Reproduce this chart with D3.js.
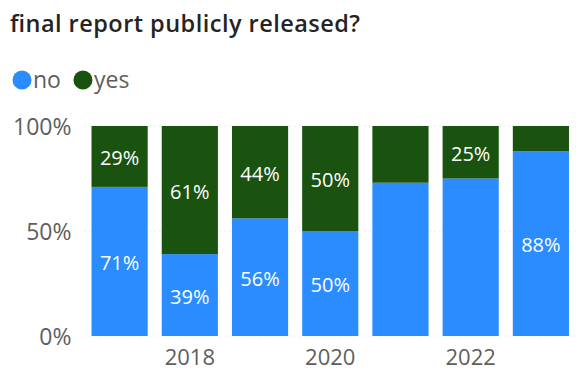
<!DOCTYPE html>
<html>
<head>
<meta charset="utf-8">
<script src="https://cdn.jsdelivr.net/npm/d3@7"></script>
<style>
  html, body { margin: 0; padding: 0; background: #fff; }
  svg { display: block; font-family: "Open Sans", "Noto Sans", sans-serif; }
</style>
</head>
<body>
<svg id="chart" width="576" height="375"></svg>
<script>
// Share of reports publicly released, by year
const years = [2017, 2018, 2019, 2020, 2021, 2022, 2023];
const noShare = [71, 39, 56, 50, 73, 75, 88];
const yesShare = [29, 61, 44, 50, 27, 25, 12];
// Which segment labels are shown (some are suppressed)
const noLabelShown = [true, true, true, true, false, false, true];
const yesLabelShown = [true, true, true, true, false, true, false];
const yTicks = [0, 50, 100];
const xTickLabels = [2018, 2020, 2022];

const seriesNames = ["no", "yes"];
const colors = { no: "#2B8CFF", yes: "#1A5210" };

const svg = d3.select("#chart");
const margin = { top: 126, right: 0, bottom: 39, left: 84.5 };
const W = 576, H = 375;

const rows = years.map((y, i) => ({ year: y, no: noShare[i], yes: yesShare[i],
  noLbl: noLabelShown[i], yesLbl: yesLabelShown[i] }));

const x = d3.scaleBand()
  .domain(years)
  .range([margin.left, W - margin.right])
  .paddingInner(0.2)
  .paddingOuter(0.1);

const y = d3.scaleLinear()
  .domain([0, 100])
  .range([H - margin.bottom, margin.top]);

// Title
svg.append("text")
  .attr("x", 10).attr("y", 32)
  .attr("font-size", 23.5).attr("font-weight", 600)
  .attr("fill", "#252423")
  .attr("textLength", 350).attr("lengthAdjust", "spacing")
  .text("final report publicly released?");

// Legend
const legend = svg.append("g");
let lx = 22;
seriesNames.forEach(name => {
  legend.append("circle").attr("cx", lx).attr("cy", 80).attr("r", 9.5).attr("fill", colors[name]);
  const t = legend.append("text").attr("x", lx + 11).attr("y", 88)
    .attr("font-size", 23).attr("fill", "#605E5C").text(name);
  lx += 11 + t.node().getComputedTextLength() + 22;
});

// Dotted gridlines
svg.append("g")
  .selectAll("line").data(yTicks).join("line")
  .attr("x1", margin.left).attr("x2", W)
  .attr("y1", d => y(d)).attr("y2", d => y(d))
  .attr("stroke", "#D8D8D8").attr("stroke-width", 1)
  .attr("stroke-dasharray", "1,4");

// Y axis
const yAxis = svg.append("g")
  .attr("transform", `translate(${margin.left - 13},0)`)
  .call(d3.axisLeft(y).tickValues(yTicks).tickFormat(d => d + "%").tickSize(0).tickPadding(0));
yAxis.select(".domain").remove();
yAxis.selectAll("text").attr("font-size", 23).attr("fill", "#605E5C")
  .attr("font-family", "Open Sans, sans-serif").attr("dy", "0.35em");

// X axis
const xAxis = svg.append("g")
  .attr("transform", `translate(0,${H - margin.bottom})`)
  .call(d3.axisBottom(x).tickValues(xTickLabels).tickSize(0).tickPadding(13));
xAxis.select(".domain").remove();
xAxis.selectAll("text").attr("font-size", 22).attr("fill", "#605E5C")
  .attr("font-family", "Open Sans, sans-serif");

// Stacked bars
const stack = d3.stack().keys(seriesNames)(rows);
const layers = svg.append("g").selectAll("g").data(stack).join("g")
  .attr("fill", d => colors[d.key]);
layers.selectAll("rect").data(d => d).join("rect")
  .attr("x", d => x(d.data.year))
  .attr("width", x.bandwidth())
  .attr("y", d => y(d[1]))
  .attr("height", d => y(d[0]) - y(d[1]));

// Segment labels
stack.forEach(layer => {
  svg.append("g").selectAll("text")
    .data(layer.filter(d => d.data[layer.key + "Lbl"]))
    .join("text")
    .attr("x", d => x(d.data.year) + x.bandwidth() / 2)
    .attr("y", d => (y(d[0]) + y(d[1])) / 2 + 1.5)
    .attr("dy", "0.35em")
    .attr("text-anchor", "middle")
    .attr("font-size", 20)
    .attr("fill", "#FFFFFF")
    .text(d => (d[1] - d[0]) + "%");
});
</script>
</body>
</html>
